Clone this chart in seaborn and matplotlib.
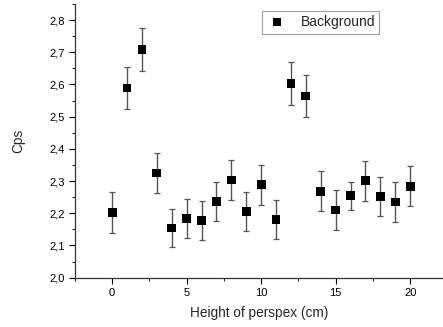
import matplotlib
matplotlib.use("Agg")
import matplotlib.pyplot as plt
import seaborn as sns
import pandas as pd
from matplotlib.ticker import FuncFormatter, MultipleLocator

heights = [0, 1, 2, 3, 4, 5, 6, 7, 8, 9, 10, 11, 12, 13, 14, 15, 16, 17, 18, 19, 20]
cps = [2.203, 2.589, 2.709, 2.325, 2.154, 2.184, 2.177, 2.236, 2.303, 2.206, 2.288,
       2.181, 2.602, 2.564, 2.268, 2.210, 2.254, 2.301, 2.252, 2.235, 2.284]
errors = [0.064, 0.066, 0.067, 0.062, 0.060, 0.061, 0.060, 0.061, 0.063, 0.061, 0.063,
          0.061, 0.067, 0.065, 0.062, 0.062, 0.044, 0.062, 0.061, 0.062, 0.062]

df = pd.DataFrame({"Height": heights, "Cps": cps, "err": errors, "series": "Background"})

sns.set_style("ticks")
plt.rcParams["font.family"] = ["Liberation Sans", "DejaVu Sans"]

fig = plt.figure(figsize=(4.43, 3.27), dpi=100)
ax = fig.add_axes([0.169, 0.151, 0.831, 0.837])

ax.errorbar(df["Height"], df["Cps"], yerr=df["err"], fmt="none", ecolor="#555555",
            elinewidth=1.0, capsize=2.5, capthick=0.9, zorder=2)
sns.scatterplot(data=df, x="Height", y="Cps", hue="series", palette=["black"],
                marker="s", s=40, edgecolor="black", linewidth=0, ax=ax, zorder=3)

ax.set_xlim(-2.5, 22.2)
ax.set_ylim(2.0, 2.85)
ax.xaxis.set_major_locator(MultipleLocator(5))
ax.xaxis.set_minor_locator(MultipleLocator(2.5))
ax.yaxis.set_major_locator(MultipleLocator(0.1))
ax.yaxis.set_minor_locator(MultipleLocator(0.05))
ax.yaxis.set_major_formatter(FuncFormatter(lambda v, p: f"{v:.1f}".replace(".", ",")))
ax.tick_params(which="major", direction="out", length=4, width=0.8, labelsize=8, colors="black")
ax.tick_params(which="minor", direction="out", length=2.5, width=0.8)
for s in ["top", "right"]:
    ax.spines[s].set_visible(False)
for s in ["left", "bottom"]:
    ax.spines[s].set_linewidth(0.9)
    ax.spines[s].set_color("#333333")

ax.set_xlabel("Height of perspex (cm)", fontsize=9.8, labelpad=6)
ax.set_ylabel("Cps", fontsize=9.8, labelpad=17)

leg = ax.legend(loc="upper left", bbox_to_anchor=(0.508, 0.973), frameon=True,
                fancybox=False, edgecolor="#888888", fontsize=10, handletextpad=0.9,
                borderpad=0.3, borderaxespad=0.0, markerscale=0.9, handlelength=1.6)
leg.get_frame().set_linewidth(0.8)

fig.savefig("out.png", dpi=100)
